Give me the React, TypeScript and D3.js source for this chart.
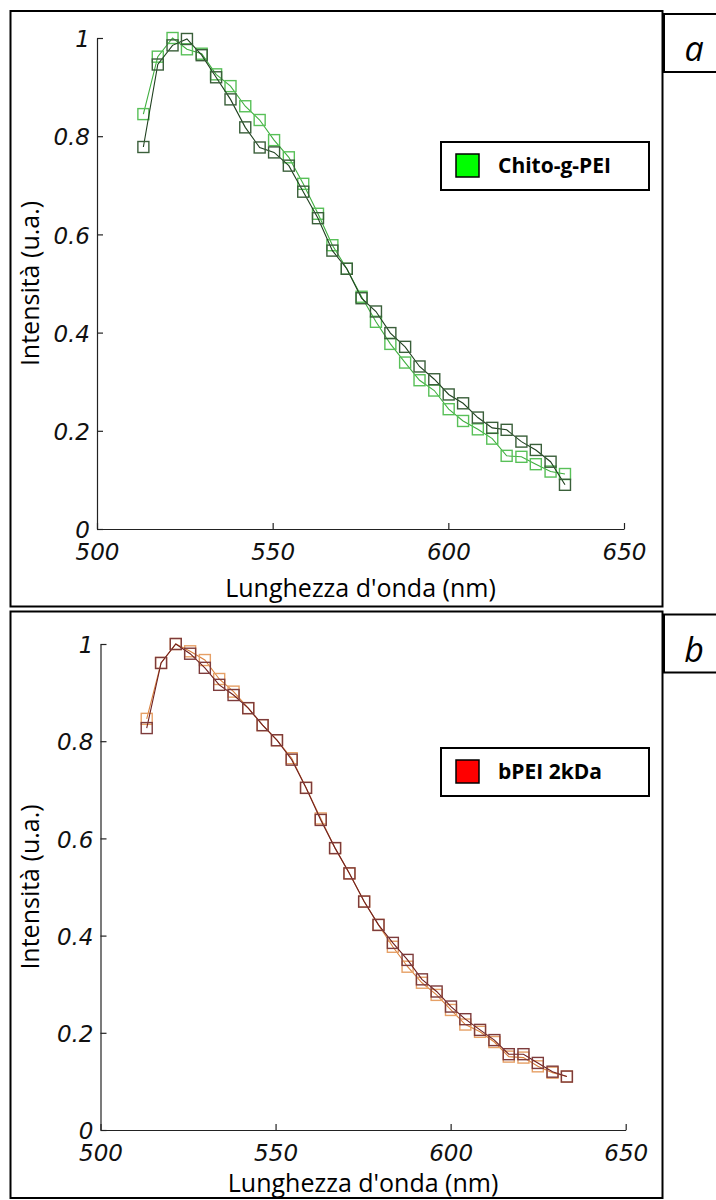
import { useEffect, useRef } from "react";
import * as d3 from "d3";

// wavelength (nm) shared by all four series
const wavelengths = [
  513.2, 517.3, 521.5, 525.6, 529.8, 533.9, 538.0, 542.2, 546.3, 550.4,
  554.6, 558.7, 562.9, 567.0, 571.1, 575.3, 579.4, 583.5, 587.7, 591.8,
  596.0, 600.1, 604.2, 608.4, 612.5, 616.6, 620.8, 624.9, 629.1, 633.2,
];

// panel a - Chito-g-PEI
const chitoLight = [
  0.845, 0.962, 1.0, 0.977, 0.968, 0.926, 0.902, 0.861, 0.833, 0.792,
  0.757, 0.703, 0.642, 0.578, 0.53, 0.473, 0.422, 0.377, 0.339, 0.303,
  0.282, 0.244, 0.22, 0.203, 0.184, 0.149, 0.147, 0.132, 0.117, 0.112,
];
const chitoDark = [
  0.778, 0.946, 0.985, 0.998, 0.965, 0.92, 0.875, 0.818, 0.777, 0.767,
  0.74, 0.687, 0.633, 0.567, 0.53, 0.47, 0.443, 0.399, 0.371, 0.331,
  0.305, 0.274, 0.256, 0.227, 0.206, 0.202, 0.178, 0.161, 0.137, 0.09,
];

// panel b - bPEI 2kDa
const bpeiLight = [
  0.846, 0.961, 1.0, 0.985, 0.967, 0.928, 0.902, 0.868, 0.833, 0.802,
  0.765, 0.704, 0.641, 0.58, 0.528, 0.47, 0.422, 0.377, 0.336, 0.303,
  0.278, 0.247, 0.217, 0.202, 0.181, 0.151, 0.149, 0.131, 0.118, 0.11,
];
const bpeiDark = [
  0.827, 0.961, 1.0, 0.98, 0.951, 0.916, 0.895, 0.868, 0.833, 0.802,
  0.762, 0.704, 0.638, 0.58, 0.528, 0.47, 0.422, 0.385, 0.35, 0.31,
  0.285, 0.254, 0.228, 0.206, 0.185, 0.156, 0.156, 0.138, 0.12, 0.11,
];

const xTicks = [500, 550, 600, 650];
const yTicks = [0, 0.2, 0.4, 0.6, 0.8, 1];
const yTickLabels = ["0", "0.2", "0.4", "0.6", "0.8", "1"];

interface Series {
  values: number[];
  line: string;
  marker: string;
}

interface PanelProps {
  top: number;
  bottom: number;
  x0: number;
  x1: number;
  y0: number;
  y1: number;
  titleOffset: number;
  letter: string;
  legendLabel: string;
  legendColor: string;
  legendTop: number;
  series: Series[];
}

function Panel(p: PanelProps) {
  const ref = useRef<SVGGElement>(null);

  useEffect(() => {
    if (!ref.current) return;
    const g = d3.select(ref.current);
    g.selectAll("*").remove();

    const x = d3.scaleLinear().domain([500, 650]).range([p.x0, p.x1]);
    const y = d3.scaleLinear().domain([0, 1]).range([p.y0, p.y1]);

    // frame around panel
    g.append("rect")
      .attr("x", 10.5).attr("y", p.top)
      .attr("width", 652).attr("height", p.bottom - p.top)
      .attr("fill", "none").attr("stroke", "#000").attr("stroke-width", 2);

    // letter box
    g.append("path")
      .attr("d", `M720,${p.top + 3}H664V${p.top + 61}H720`)
      .attr("fill", "none").attr("stroke", "#000").attr("stroke-width", 2);
    g.append("text")
      .attr("x", 694).attr("y", p.top + 50)
      .attr("text-anchor", "middle")
      .attr("font-family", "'Open Sans'")
      .attr("font-style", "italic")
      .attr("font-size", 34)
      .text(p.letter);

    // axes
    const yAxis = d3.axisLeft(y)
      .tickValues(yTicks)
      .tickSizeInner(-6).tickSizeOuter(0).tickPadding(7)
      .tickFormat((_, i) => yTickLabels[i]);
    const xAxis = d3.axisBottom(x)
      .tickValues(xTicks)
      .tickSizeInner(-6).tickSizeOuter(0).tickPadding(15)
      .tickFormat((d) => String(d));

    const ya = g.append("g").attr("transform", `translate(${p.x0},0)`).call(yAxis);
    const xa = g.append("g").attr("transform", `translate(0,${p.y0})`).call(xAxis);
    [ya, xa].forEach((a) => {
      a.selectAll("path, line").attr("stroke", "#222").attr("stroke-width", 1.2);
      a.selectAll("text")
        .attr("font-family", "'DejaVu Sans'")
        .attr("font-style", "italic")
        .attr("font-size", 23)
        .attr("fill", "#111");
    });
    ya.selectAll("text").attr("dy", "0.38em");

    // axis titles
    g.append("text")
      .attr("x", (p.x0 + p.x1) / 2).attr("y", p.y0 + p.titleOffset)
      .attr("text-anchor", "middle")
      .attr("font-family", "'Open Sans'")
      .attr("font-size", 25)
      .text("Lunghezza d'onda (nm)");
    g.append("text")
      .attr("transform", `translate(39,${(p.y0 + p.y1) / 2}) rotate(-90)`)
      .attr("text-anchor", "middle")
      .attr("font-family", "'Open Sans'")
      .attr("font-size", 25)
      .text("Intensità (u.a.)");

    // series
    const line = d3.line<number>()
      .x((_, i) => x(wavelengths[i]))
      .y((d) => y(d));
    const ms = 11;
    p.series.forEach((s) => {
      g.append("path")
        .attr("d", line(s.values))
        .attr("fill", "none")
        .attr("stroke", s.line)
        .attr("stroke-width", 1.1);
      g.selectAll(null)
        .data(s.values)
        .enter()
        .append("rect")
        .attr("x", (_, i) => x(wavelengths[i]) - ms / 2)
        .attr("y", (d) => y(d) - ms / 2)
        .attr("width", ms).attr("height", ms)
        .attr("fill", "none")
        .attr("stroke", s.marker)
        .attr("stroke-width", 1.4);
    });

    // legend
    const lt = p.legendTop;
    g.append("rect")
      .attr("x", 441).attr("y", lt)
      .attr("width", 208).attr("height", 48)
      .attr("fill", "#fff").attr("stroke", "#000").attr("stroke-width", 2);
    g.append("rect")
      .attr("x", 456).attr("y", lt + 12)
      .attr("width", 23).attr("height", 23)
      .attr("fill", p.legendColor).attr("stroke", "#000").attr("stroke-width", 1.5);
    g.append("text")
      .attr("x", 498).attr("y", lt + 31)
      .attr("font-family", "'Open Sans'")
      .attr("font-weight", 700)
      .attr("font-size", 21)
      .text(p.legendLabel);
  }, []);

  return <g ref={ref} />;
}

export default function App() {
  return (
    <div style={{ position: "absolute", left: 0, top: 0 }}>
      <svg width={716} height={1200} style={{ display: "block", background: "#fff" }}>
        <Panel
          top={11} bottom={606.5}
          x0={97} x1={624} y0={529} y1={38}
          titleOffset={68}
          letter="a"
          legendLabel="Chito-g-PEI" legendColor="#00ff00" legendTop={142}
          series={[
            { values: chitoLight, line: "#3fae3f", marker: "#58c058" },
            { values: chitoDark, line: "#1f3f1f", marker: "#3a5f3a" },
          ]}
        />
        <Panel
          top={611.5} bottom={1198}
          x0={100.5} x1={625.7} y0={1130} y1={644}
          titleOffset={62}
          letter="b"
          legendLabel="bPEI 2kDa" legendColor="#ff0000" legendTop={748}
          series={[
            { values: bpeiLight, line: "#d9823f", marker: "#e6a066" },
            { values: bpeiDark, line: "#6e1f1f", marker: "#7d3b3b" },
          ]}
        />
      </svg>
    </div>
  );
}
